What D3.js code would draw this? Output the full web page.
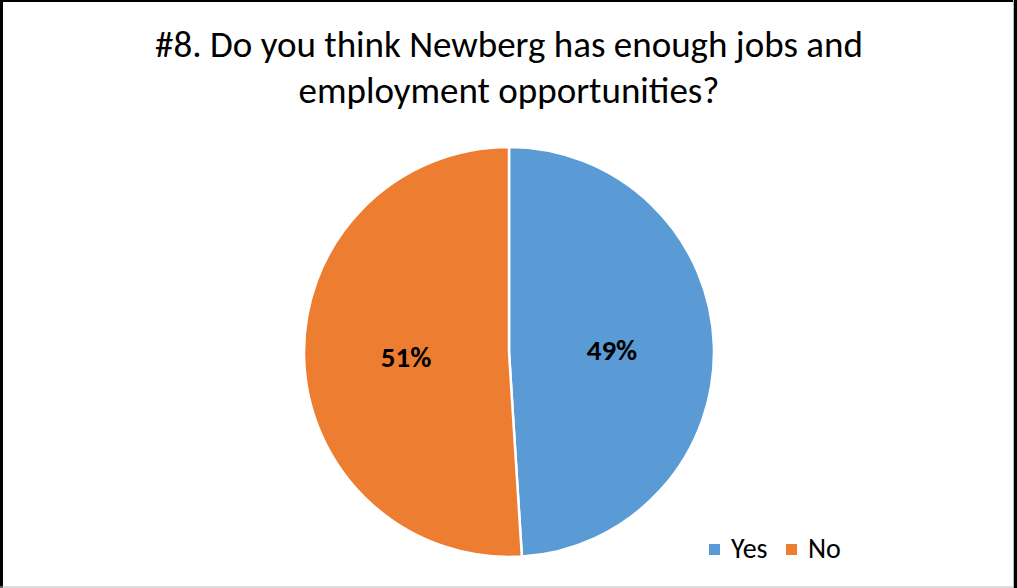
<!DOCTYPE html>
<html>
<head>
<meta charset="utf-8">
<script src="https://cdn.jsdelivr.net/npm/d3@7"></script>
<style>
  html, body { margin: 0; padding: 0; background: #fff; }
  svg { display: block; }
</style>
</head>
<body>
<svg id="chart" width="1017" height="588"></svg>
<script>
// Survey responses
const categories = ["Yes", "No"];
const values = [49, 51];
const colors = ["#5B9BD5", "#ED7D31"];
const titleLines = ["#8. Do you think Newberg has enough jobs and", "employment opportunities?"];

const W = 1017, H = 588;
const svg = d3.select("#chart");
const font = "Carlito, Calibri, 'Open Sans', 'Liberation Sans', sans-serif";

// Frame
svg.append("rect").attr("x", 0).attr("y", 0).attr("width", W).attr("height", H).attr("fill", "#fff");
svg.append("line").attr("x1", 1.5).attr("y1", 0).attr("x2", 1.5).attr("y2", H).attr("stroke", "#000").attr("stroke-width", 3);
svg.append("line").attr("x1", 0).attr("y1", 1).attr("x2", W).attr("y2", 1).attr("stroke", "#000").attr("stroke-width", 2);
svg.append("line").attr("x1", 1013.5).attr("y1", 0).attr("x2", 1013.5).attr("y2", H).attr("stroke", "#bbb").attr("stroke-width", 1);
svg.append("line").attr("x1", 1015.5).attr("y1", 0).attr("x2", 1015.5).attr("y2", H).attr("stroke", "#000").attr("stroke-width", 3);
svg.append("line").attr("x1", 0).attr("y1", 587).attr("x2", 1014).attr("y2", 587).attr("stroke", "#bbb").attr("stroke-width", 1);

// Title
const title = svg.append("text")
  .attr("text-anchor", "middle")
  .attr("font-family", font)
  .attr("font-size", 37)
  .attr("fill", "#000");
title.selectAll("tspan").data(titleLines).join("tspan")
  .attr("x", 509)
  .attr("y", (d, i) => 57 + i * 46)
  .text(d => d);

// Pie
const cx = 509, cy = 352, r = 205;
const pie = d3.pie().sort(null).value(d => d)(values);
const arc = d3.arc().innerRadius(0).outerRadius(r);
const labelArc = d3.arc().innerRadius(103).outerRadius(103);
const g = svg.append("g").attr("transform", `translate(${cx},${cy})`);
g.selectAll("path").data(pie).join("path")
  .attr("d", arc)
  .attr("fill", (d, i) => colors[i])
  .attr("stroke", "#fff")
  .attr("stroke-width", 2.5)
  .attr("stroke-linejoin", "round");

const total = d3.sum(values);
g.selectAll("text.lbl").data(pie).join("text")
  .attr("class", "lbl")
  .attr("transform", d => { const [x, y] = labelArc.centroid(d); return `translate(${x},${y + 2})`; })
  .attr("text-anchor", "middle")
  .attr("dy", "0.33em")
  .attr("font-family", font)
  .attr("font-weight", "bold")
  .attr("font-size", 29)
  .attr("fill", "#000")
  .text(d => Math.round(d.data / total * 100) + "%");

// Legend
const legendX = [709, 786];
const leg = svg.append("g");
categories.forEach((c, i) => {
  leg.append("rect").attr("x", legendX[i]).attr("y", 544).attr("width", 11).attr("height", 11).attr("fill", colors[i]);
  leg.append("text").attr("x", legendX[i] + 22).attr("y", 558)
    .attr("font-family", font).attr("font-size", 28).attr("fill", "#000").text(c);
});
</script>
</body>
</html>
